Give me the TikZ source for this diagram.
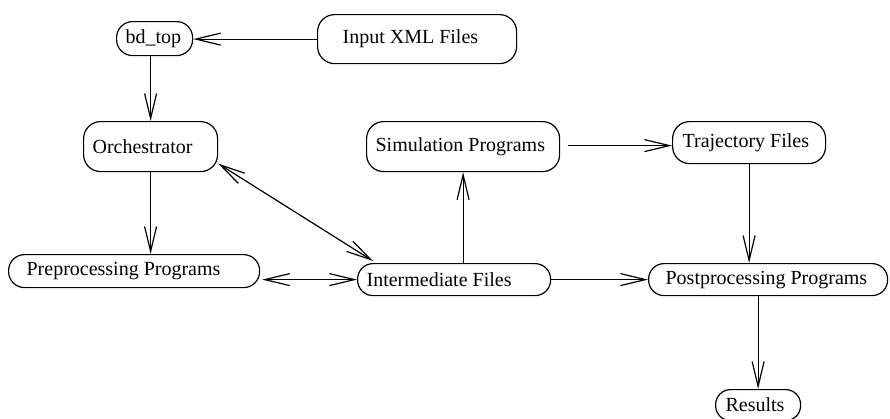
\documentclass[tikz,border=0pt]{standalone}
\usepackage{fontspec}
\setmainfont{Liberation Serif}
\usetikzlibrary{arrows.meta,calc}

% Rounded box: #1 = corner radius
\tikzset{
  flowbox/.style={draw, line width=1.2pt, rounded corners=#1, anchor=north west,
    align=flush left, inner ysep=0pt, font=\fontsize{20}{24}\selectfont},
  flowbox/.default=16pt,
  >={Straight Barb[length=25pt,width=12pt,line width=1.2pt]},
  link/.style={line width=1.2pt, ->},
  biglink/.style={line width=1.2pt, <->},
}

% \flownode{name}{x}{y}{width}{height}{left pad}{radius}{text}
\newcommand\flownode[8]{%
  \node[flowbox=#7, minimum width=#4pt, minimum height=#5pt, inner xsep=#6pt,
        text width=\dimexpr #4pt - #6pt - #6pt\relax] (#1) at (#2,#3) {#8};}

\begin{document}
\begin{tikzpicture}[x=1pt, y=-1pt]
  \fill[white] (0,0) rectangle (890,418);
  \useasboundingbox (0,0) rectangle (890,418);

  \flownode{bdtop}{116}{21}{76}{34}{9}{16pt}{bd\_top}
  \flownode{input}{317}{14}{199}{49}{25}{17pt}{Input XML Files}
  \flownode{orch}{83}{121}{134}{50}{9}{17pt}{Orchestrator}
  \flownode{sim}{366}{121}{193}{50}{9}{17pt}{Simulation Programs}
  \flownode{traj}{672}{121}{153}{42}{10}{17pt}{Trajectory Files}
  \flownode{pre}{8}{254}{251}{33}{18}{16pt}{Preprocessing Programs}
  \flownode{inter}{357}{263}{193}{32}{9}{15.5pt}{Intermediate Files}
  \flownode{post}{648}{263}{239}{32}{17}{15.5pt}{Postprocessing Programs}
  \flownode{res}{715}{389}{85}{31}{10}{15pt}{Results}

  % connectors
  \draw[link] (input.west) -- (input.west -| bdtop.east);
  \draw[link] (orch.north |- bdtop.south) -- (orch.north);
  \draw[link] (orch.south) -- (orch.south |- pre.north);
  \draw[biglink] ($(orch.east)+(0,17)$) -- ($(inter.north west)+(16,-2)$);
  \draw[biglink] ($(pre.east |- inter.west)+(2,0)$) -- (inter.west);
  \draw[link] (sim.south |- inter.north) -- (sim.south);
  \draw[link] ($(sim.east)+(8,-1)$) -- (traj.west |- {$(sim.east)+(8,-1)$});
  \draw[link] (traj.south) -- (traj.south |- post.north);
  \draw[link] (inter.east) -- (post.west);
  \draw[link] (res.north |- post.south) -- (res.north);
\end{tikzpicture}
\end{document}
